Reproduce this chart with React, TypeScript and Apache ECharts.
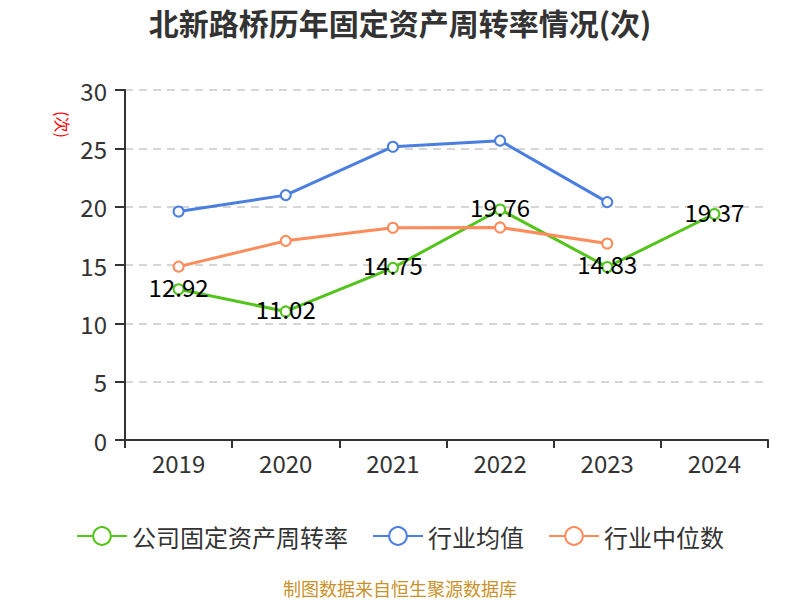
import React, { useEffect, useRef } from "react";
import * as echarts from "echarts";

const categories = ["2019", "2020", "2021", "2022", "2023", "2024"];
const companyValues = [12.92, 11.02, 14.75, 19.76, 14.83, 19.37];
const industryMean = [19.59, 20.99, 25.14, 25.66, 20.39, null];
const industryMedian = [14.86, 17.07, 18.19, 18.22, 16.84, null];
const seriesNames = ["公司固定资产周转率", "行业均值", "行业中位数"];

const FONT = "'Noto Sans CJK SC', 'Noto Sans', sans-serif";

export default function App() {
  const ref = useRef<HTMLDivElement>(null);
  useEffect(() => {
    const chart = echarts.init(ref.current!, null, { renderer: "svg" });
    chart.setOption({
      animation: false,
      textStyle: { fontFamily: FONT },
      title: {
        text: "北新路桥历年固定资产周转率情况(次)",
        left: "center",
        top: 2,
        textStyle: { fontSize: 30, fontWeight: "bold", color: "#333", fontFamily: FONT },
      },
      grid: { left: 125, right: 32, top: 90, bottom: 160 },
      legend: {
        top: 519,
        left: "center",
        itemWidth: 50,
        itemHeight: 22,
        itemGap: 24,
        textStyle: { fontSize: 24, color: "#333", fontFamily: FONT },
        data: seriesNames,
      },
      xAxis: {
        type: "category",
        data: categories,
        boundaryGap: true,
        axisLine: { lineStyle: { color: "#333", width: 2 } },
        axisTick: { show: true, length: 8, lineStyle: { color: "#333", width: 2 } },
        axisLabel: { fontSize: 24, color: "#333", margin: 10 },
      },
      yAxis: {
        type: "value",
        min: 0,
        max: 30,
        interval: 5,
        axisLine: { show: true, lineStyle: { color: "#333", width: 2 } },
        axisTick: { show: true, length: 10, lineStyle: { color: "#333", width: 2 } },
        axisLabel: { fontSize: 24, color: "#333", margin: 18 },
        splitLine: { lineStyle: { type: [8, 6], color: "#c8c8c8", width: 1.5 } },
      },
      graphic: [
        {
          type: "text",
          x: 71,
          y: 111,
          rotation: -Math.PI / 2,
          style: { text: "(次)", fill: "#ff0000", fontSize: 16, fontFamily: FONT },
        },
        {
          type: "text",
          left: "center",
          top: 579,
          style: { text: "制图数据来自恒生聚源数据库", fill: "#c8922a", fontSize: 18, fontFamily: FONT },
        },
      ],
      series: [
        {
          name: seriesNames[0],
          type: "line",
          data: companyValues,
          symbol: "emptyCircle",
          symbolSize: 10,
          itemStyle: { color: "#52c41a" },
          lineStyle: { width: 3, color: "#52c41a" },
          label: {
            show: true,
            position: "inside",
            offset: [0, -3],
            fontSize: 24,
            color: "#000",
            fontFamily: FONT,
          },
          z: 3,
        },
        {
          name: seriesNames[1],
          type: "line",
          data: industryMean,
          symbol: "emptyCircle",
          symbolSize: 10,
          itemStyle: { color: "#4a7ee0" },
          lineStyle: { width: 3, color: "#4a7ee0" },
        },
        {
          name: seriesNames[2],
          type: "line",
          data: industryMedian,
          symbol: "emptyCircle",
          symbolSize: 10,
          itemStyle: { color: "#fe8b5a" },
          lineStyle: { width: 3, color: "#fe8b5a" },
        },
      ],
    });
    return () => chart.dispose();
  }, []);
  return (
    <div
      ref={ref}
      style={{ width: 800, height: 600, position: "absolute", left: 0, top: 0 }}
    />
  );
}
